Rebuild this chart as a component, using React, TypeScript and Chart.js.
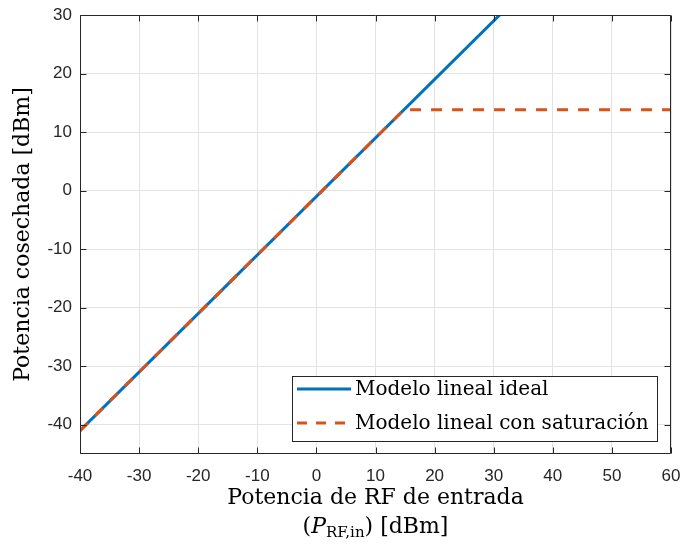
import React, { useEffect, useRef } from "react";
import { Chart, registerables } from "chart.js";

Chart.register(...registerables);

const xTicks = [-40, -30, -20, -10, 0, 10, 20, 30, 40, 50, 60];
const yTicks = [-40, -30, -20, -10, 0, 10, 20, 30];
const idealX = [-40, 60];
const idealY = [-41, 59];
const satX = [-40, 14.8, 60];
const satY = [-41, 13.8, 13.8];
const legendLabels = ["Modelo lineal ideal", "Modelo lineal con saturación"];
const xTitle1 = "Potencia de RF de entrada";
const yTitle = "Potencia cosechada [dBm]";

const BLUE = "#0072BD";
const ORANGE = "#D95319";
const AX = "#262626";
const SERIF = "'DejaVu Serif', serif";

const decor = {
  id: "decor",
  afterDraw(chart: any) {
    const { ctx, chartArea: a, scales } = chart;
    const xs = scales.x, ys = scales.y;
    ctx.save();
    // box
    ctx.strokeStyle = AX;
    ctx.lineWidth = 1;
    const L = Math.round(a.left) + 0.5, R = Math.round(a.right) - 0.5;
    const T = Math.round(a.top) + 0.5, B = Math.round(a.bottom) - 0.5;
    ctx.beginPath();
    ctx.rect(L, T, R - L, B - T);
    ctx.stroke();
    const tl = 6;
    ctx.beginPath();
    xTicks.forEach((v) => {
      const px = Math.round(xs.getPixelForValue(v)) + 0.5;
      ctx.moveTo(px, B); ctx.lineTo(px, B - tl);
      ctx.moveTo(px, T); ctx.lineTo(px, T + tl);
    });
    yTicks.forEach((v) => {
      const py = Math.round(ys.getPixelForValue(v)) + 0.5;
      ctx.moveTo(L, py); ctx.lineTo(L + tl, py);
      ctx.moveTo(R, py); ctx.lineTo(R - tl, py);
    });
    ctx.stroke();

    // legend
    const lx = 292.5, ly = 376.5, lw = 365, lh = 65;
    ctx.fillStyle = "#fff";
    ctx.fillRect(lx, ly, lw, lh);
    ctx.strokeStyle = AX;
    ctx.strokeRect(lx, ly, lw, lh);
    const rows = [
      { c: BLUE, dash: [] as number[], y: 389 },
      { c: ORANGE, dash: [10, 9], y: 423 },
    ];
    rows.forEach((r, i) => {
      ctx.strokeStyle = r.c;
      ctx.lineWidth = 3;
      ctx.setLineDash(r.dash);
      ctx.beginPath();
      ctx.moveTo(297, r.y);
      ctx.lineTo(351, r.y);
      ctx.stroke();
      ctx.setLineDash([]);
      ctx.fillStyle = "#000";
      ctx.font = `20px ${SERIF}`;
      ctx.textAlign = "left";
      ctx.textBaseline = "middle";
      ctx.fillText(legendLabels[i], 355, r.y + 1);
    });

    // x title
    ctx.fillStyle = "#000";
    ctx.textBaseline = "alphabetic";
    ctx.textAlign = "left";
    ctx.font = `22px ${SERIF}`;
    const cx = (a.left + a.right) / 2;
    const w1 = ctx.measureText(xTitle1).width;
    ctx.fillText(xTitle1, cx - w1 / 2, 504);
    // second line with subscript
    const parts = [
      { t: "(", f: `22px ${SERIF}`, dy: 0 },
      { t: "P", f: `italic 22px ${SERIF}`, dy: 0 },
      { t: "RF,in", f: `15px ${SERIF}`, dy: 4 },
      { t: ") [dBm]", f: `22px ${SERIF}`, dy: 0 },
    ];
    let tw = 0;
    parts.forEach((p) => { ctx.font = p.f; tw += ctx.measureText(p.t).width; });
    let x = cx - tw / 2;
    parts.forEach((p) => {
      ctx.font = p.f;
      ctx.fillText(p.t, x, 533 + p.dy);
      x += ctx.measureText(p.t).width;
    });

    // y title
    ctx.save();
    ctx.translate(29, (a.top + a.bottom) / 2);
    ctx.rotate(-Math.PI / 2);
    ctx.font = `22px ${SERIF}`;
    ctx.textAlign = "center";
    ctx.textBaseline = "alphabetic";
    ctx.fillText(yTitle, 0, 0);
    ctx.restore();
    ctx.restore();
  },
};

export default function App() {
  const ref = useRef<HTMLCanvasElement>(null);
  useEffect(() => {
    document.body.style.margin = "0";
    const chart = new Chart(ref.current!, {
      type: "scatter",
      data: {
        datasets: [
          {
            label: legendLabels[0],
            data: idealX.map((x, i) => ({ x, y: idealY[i] })),
            showLine: true,
            borderColor: BLUE,
            borderWidth: 3,
            pointRadius: 0,
            order: 2,
          },
          {
            label: legendLabels[1],
            data: satX.map((x, i) => ({ x, y: satY[i] })),
            showLine: true,
            borderColor: ORANGE,
            borderWidth: 3,
            borderDash: [11, 10],
            pointRadius: 0,
            order: 1,
          },
        ],
      },
      options: {
        animation: false,
        responsive: false,
        layout: { padding: { top: 15, right: 11, left: 0, bottom: 0 } },
        plugins: { legend: { display: false }, tooltip: { enabled: false } },
        scales: {
          x: {
            type: "linear",
            min: -40,
            max: 60,
            afterBuildTicks: (s: any) => { s.ticks = xTicks.map((v) => ({ value: v })); },
            afterFit: (s: any) => { s.height = 90; s.paddingLeft = 0; s.paddingRight = 0; },
            grid: { color: "#e3e3e3", drawTicks: false },
            border: { display: false },
            ticks: {
              padding: 12,
              color: AX,
              font: { family: "'Liberation Sans', Arial, sans-serif", size: 17 },
              maxRotation: 0,
            },
          },
          y: {
            type: "linear",
            min: -45,
            max: 30,
            afterBuildTicks: (s: any) => { s.ticks = yTicks.map((v) => ({ value: v })); },
            afterFit: (s: any) => { s.width = 80; s.paddingTop = 0; s.paddingBottom = 0; },
            grid: { color: "#e3e3e3", drawTicks: false },
            border: { display: false },
            ticks: {
              padding: 8,
              color: AX,
              font: { family: "'Liberation Sans', Arial, sans-serif", size: 17 },
            },
          },
        },
      },
      plugins: [decor],
    });
    return () => chart.destroy();
  }, []);
  return <canvas ref={ref} width={682} height={544} style={{ display: "block" }} />;
}
